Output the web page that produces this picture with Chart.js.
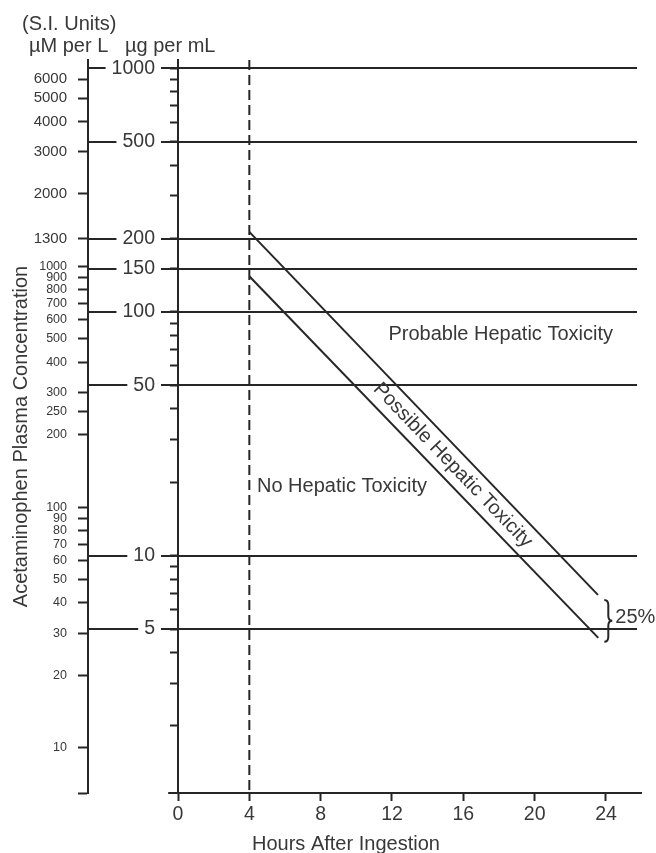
<!DOCTYPE html>
<html>
<head>
<meta charset="utf-8">
<script src="https://cdn.jsdelivr.net/npm/chart.js@4/dist/chart.umd.min.js"></script>
<style>
html,body{margin:0;padding:0;background:#fff}
canvas{display:block}
</style>
</head>
<body>
<canvas id="c" width="656" height="853"></canvas>
<script>
// ---------------- data ----------------
const HOURS_TICKS = [0, 4, 8, 12, 16, 20, 24];
const UG_LEVELS = [1000, 500, 200, 150, 100, 50, 10, 5];
const UG_TICKS = [1000, 900, 800, 700, 600, 500, 400, 300, 200, 150, 100, 90, 80, 70, 60, 50, 40, 30, 20, 10, 9, 8, 7, 6, 5, 4, 3, 2];
const SI_TICKS = [6000, 5000, 4000, 3000, 2000, 1300, 1000, 900, 800, 700, 600, 500, 400, 300, 250, 200, 100, 90, 80, 70, 60, 50, 40, 30, 20, 10];
const UPPER_LINE_HOURS = [4, 23.55];
const UPPER_LINE_UG = [213, 6.9];
const LOWER_LINE_HOURS = [4, 23.57];
const LOWER_LINE_UG = [140, 4.6];
const TREATMENT_HOUR = [4];

// ---------------- axis ranges ----------------
const X_MIN = 0, X_MAX = 25.74;
const UG_MIN = 1.062, UG_MAX = 1080;
const SI_MIN = 6.5, SI_MAX = 7200;
const X_AXIS_EXTENT = [-0.55, 26.02];
const LEVEL_LINE_EXTENT = [0, X_MAX];

// ---------------- styles ----------------
const INK = '#262626';
const TEXT = '#383838';
const FONT = "'Liberation Sans', Arial, Helvetica, sans-serif";

const REGION_TEXT = [
  {text: 'Probable Hepatic Toxicity', x: 11.8, y: 77},
  {text: 'No Hepatic Toxicity', x: 4.43, y: 18.3}
];
const BAND_LABEL_HOUR = 15.4;

const lineStyle = {borderColor: INK, borderWidth: 2, pointRadius: 0, pointHoverRadius: 0,
  fill: false, clip: false, tension: 0, showLine: true};

const pts = (xs, ys) => xs.map((x, i) => ({x, y: ys[i]}));

const annot = {
  id: 'annot',
  afterDraw(chart) {
    const {ctx, scales: {x, y}} = chart;
    ctx.save();
    ctx.fillStyle = TEXT;
    ctx.strokeStyle = INK;
    ctx.font = `20px ${FONT}`;
    ctx.textBaseline = 'alphabetic';
    ctx.textAlign = 'left';
    ctx.fillText('(S.I. Units)', 22, 30);
    ctx.fillText('\u00B5M per L', 29, 52);
    ctx.fillText('\u00B5g per mL', 125, 52);
    ctx.fillText('Hours After Ingestion', 252, 850);

    ctx.save();
    ctx.translate(27, 436.5);
    ctx.rotate(-Math.PI / 2);
    ctx.textAlign = 'center';
    ctx.fillText('Acetaminophen Plasma Concentration', 0, 0);
    ctx.restore();

    REGION_TEXT.forEach(r => ctx.fillText(r.text, x.getPixelForValue(r.x), y.getPixelForValue(r.y)));

    // band label
    const P = (hs, us) => hs.map((h, i) => [x.getPixelForValue(h), y.getPixelForValue(us[i])]);
    const up = P(UPPER_LINE_HOURS, UPPER_LINE_UG);
    const lo = P(LOWER_LINE_HOURS, LOWER_LINE_UG);
    const px = x.getPixelForValue(BAND_LABEL_HOUR);
    const at = (seg, X) => seg[0][1] + (X - seg[0][0]) * (seg[1][1] - seg[0][1]) / (seg[1][0] - seg[0][0]);
    const my = (at(up, px) + at(lo, px)) / 2;
    const ang = Math.atan2(up[1][1] - up[0][1], up[1][0] - up[0][0]);
    ctx.save();
    ctx.translate(px, my);
    ctx.rotate(ang);
    ctx.textAlign = 'center';
    ctx.textBaseline = 'middle';
    ctx.fillText('Possible Hepatic Toxicity', 0, 0);
    ctx.restore();

    // brace + 25%
    const bx = Math.max(up[1][0], lo[1][0]) + 6;
    const top = up[1][1] + 5, bot = lo[1][1] + 4, mid = (top + bot) / 2;
    ctx.lineWidth = 2;
    ctx.beginPath();
    ctx.moveTo(bx, top);
    ctx.quadraticCurveTo(bx + 4, top, bx + 4, top + 5);
    ctx.lineTo(bx + 4, mid - 5);
    ctx.quadraticCurveTo(bx + 4, mid, bx + 8, mid);
    ctx.quadraticCurveTo(bx + 4, mid, bx + 4, mid + 5);
    ctx.lineTo(bx + 4, bot - 5);
    ctx.quadraticCurveTo(bx + 4, bot, bx, bot);
    ctx.stroke();
    ctx.fillText('25%', bx + 11, mid + 2.5);
    ctx.restore();
  }
};

new Chart(document.getElementById('c'), {
  type: 'scatter',
  data: {
    datasets: [
      {label: 'upper', data: pts(UPPER_LINE_HOURS, UPPER_LINE_UG), ...lineStyle},
      {label: 'lower', data: pts(LOWER_LINE_HOURS, LOWER_LINE_UG), ...lineStyle},
      {label: '4h', data: [{x: TREATMENT_HOUR[0], y: UG_MAX}, {x: TREATMENT_HOUR[0], y: UG_MIN}], ...lineStyle, borderDash: [10, 5]},
      {label: 'x axis', data: X_AXIS_EXTENT.map(v => ({x: v, y: UG_MIN})), ...lineStyle}
    ]
  },
  options: {
    responsive: false,
    animation: false,
    events: [],
    layout: {padding: {top: 60, right: 19, bottom: 0, left: 0}},
    plugins: {legend: {display: false}, tooltip: {enabled: false}, title: {display: false}},
    scales: {
      x: {
        type: 'linear', position: 'bottom', min: X_MIN, max: X_MAX,
        afterBuildTicks: s => { s.ticks = HOURS_TICKS.map(v => ({value: v})); },
        afterFit: s => { s.height = 60; s.paddingLeft = 0; s.paddingRight = 0; },
        border: {display: false},
        grid: {drawOnChartArea: false, drawTicks: true, tickLength: 8, tickColor: INK, tickWidth: 2},
        ticks: {font: {family: FONT, size: 19.5}, color: TEXT, padding: 2, autoSkip: false, maxRotation: 0,
          callback: v => String(v)}
      },
      y: {
        type: 'logarithmic', axis: 'y', position: 'left', weight: 1, min: UG_MIN, max: UG_MAX,
        afterBuildTicks: s => { s.ticks = UG_LEVELS.map(v => ({value: v})); },
        afterFit: s => { s.width = 90; s.paddingTop = 0; s.paddingBottom = 0; },
        border: {display: true, color: INK, width: 2},
        grid: {drawOnChartArea: true, color: INK, lineWidth: 2, drawTicks: true, tickLength: 90, tickColor: INK, tickWidth: 2},
        ticks: {font: {family: FONT, size: 19.5}, color: TEXT, padding: -67, autoSkip: false,
          callback: v => String(v), showLabelBackdrop: true, backdropColor: '#ffffff',
          backdropPadding: {left: 6, right: 6, top: 0, bottom: 0}}
      },
      yMinor: {
        type: 'logarithmic', axis: 'y', position: 'left', weight: 0, min: UG_MIN, max: UG_MAX,
        afterBuildTicks: s => { s.ticks = UG_TICKS.map(v => ({value: v})); },
        afterFit: s => { s.width = 0; s.paddingTop = 0; s.paddingBottom = 0; },
        border: {display: false},
        grid: {drawOnChartArea: false, drawTicks: true, tickLength: 8, tickColor: INK, tickWidth: 2},
        ticks: {display: false, autoSkip: false}
      },
      si: {
        type: 'logarithmic', axis: 'y', position: 'left', weight: 2, min: SI_MIN, max: SI_MAX,
        afterBuildTicks: s => { s.ticks = SI_TICKS.concat([SI_MIN]).map(v => ({value: v})); },
        afterFit: s => { s.width = 88; s.paddingTop = 0; s.paddingBottom = 0; },
        border: {display: true, color: INK, width: 2},
        grid: {drawOnChartArea: false, drawTicks: true, tickLength: 10, tickColor: INK, tickWidth: 2},
        ticks: {color: TEXT, padding: 11, autoSkip: false,
          font: ctx => ({family: FONT, size: (ctx.tick && ctx.tick.value >= 1300) ? 15 : 12.5}),
          callback: v => (v === SI_MIN ? '' : String(v))}
      }
    }
  },
  plugins: [annot]
});
</script>
</body>
</html>
